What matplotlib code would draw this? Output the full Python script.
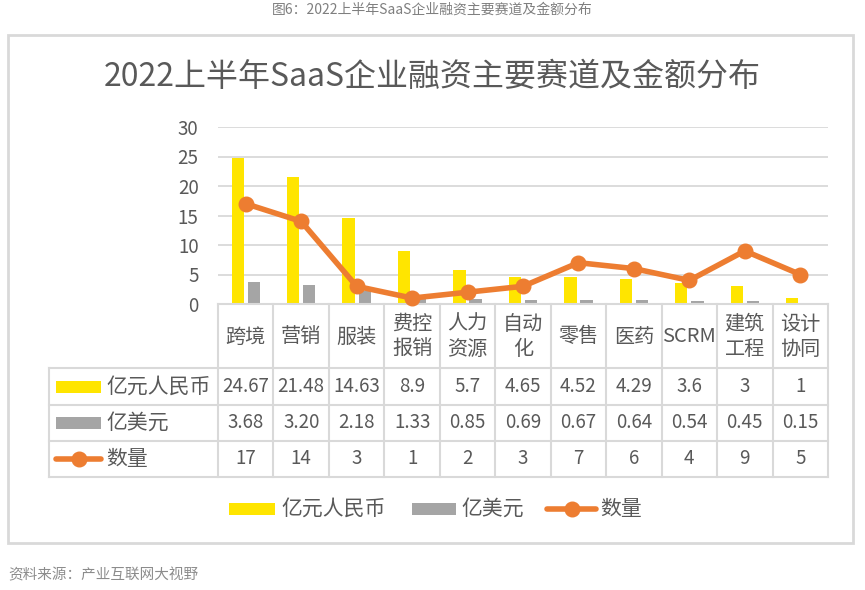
import matplotlib
matplotlib.use("Agg")
import matplotlib.pyplot as plt
import matplotlib.transforms as mtransforms
from matplotlib.lines import Line2D
from matplotlib.patches import Rectangle
import numpy as np

plt.rcParams['font.family'] = ['Noto Sans CJK SC', 'DejaVu Sans']

# ---- data ----
categories = ['跨境', '营销', '服装', '费控\n报销', '人力\n资源', '自动\n化', '零售', '医药', 'SCRM', '建筑\n工程', '设计\n协同']
rmb = [24.67, 21.48, 14.63, 8.9, 5.7, 4.65, 4.52, 4.29, 3.6, 3, 1]
usd = [3.68, 3.20, 2.18, 1.33, 0.85, 0.69, 0.67, 0.64, 0.54, 0.45, 0.15]
count = [17, 14, 3, 1, 2, 3, 7, 6, 4, 9, 5]
series_names = ['亿元人民币', '亿美元', '数量']
yticks = [0, 5, 10, 15, 20, 25, 30]
title = '2022上半年SaaS企业融资主要赛道及金额分布'
caption = '图6：2022上半年SaaS企业融资主要赛道及金额分布'
source = '资料来源：产业互联网大视野'

YELLOW = '#FFE500'
GRAY = '#A5A5A5'
ORANGE = '#ED7D31'
TXT = '#595959'
GRID = '#D9D9D9'

W, H = 865, 590
fig = plt.figure(figsize=(W / 100, H / 100), dpi=100)
fig.patch.set_facecolor('white')

def fx(x):
    return x / W

def fy(y):
    return 1 - y / H

# plot area
L, R, T, B = 218, 828, 127, 304
ax = fig.add_axes([fx(L), fy(B), fx(R) - fx(L), fy(T) - fy(B)])
x = np.arange(len(categories))
ax.set_xlim(-0.5, len(categories) - 0.5)
ax.set_ylim(0, 30)
ax.set_yticks(yticks)
ax.set_yticklabels([str(t) for t in yticks], fontsize=13.5, color=TXT)
ax.tick_params(axis='y', length=0, pad=14)
ax.set_xticks([])
for s in ['top', 'right', 'left']:
    ax.spines[s].set_visible(False)
ax.spines['bottom'].set_color(GRID)
ax.spines['bottom'].set_linewidth(1.5)
ax.grid(axis='y', color=GRID, linewidth=1.3)
ax.set_axisbelow(True)

ax.bar(x - 0.145, rmb, width=0.22, color=YELLOW, zorder=2)
ax.bar(x + 0.145, usd, width=0.22, color=GRAY, zorder=2)
ax.plot(x, count, color=ORANGE, lw=4, marker='o', ms=10.5, zorder=3, clip_on=False)

# table
bt = mtransforms.blended_transform_factory(ax.transData, fig.transFigure)
ft = fig.transFigure
rows_y = [304, 368, 405, 441, 477]
LEFT = 49
for i in range(len(categories) + 1):
    fig.add_artist(Line2D([i - 0.5, i - 0.5], [fy(304), fy(477)], transform=bt, color=GRID, lw=1.5))
fig.add_artist(Line2D([fx(LEFT), fx(LEFT)], [fy(368), fy(477)], transform=ft, color=GRID, lw=1.5))
for yy in rows_y[1:]:
    fig.add_artist(Line2D([fx(LEFT), fx(R)], [fy(yy), fy(yy)], transform=ft, color=GRID, lw=1.5))

for i, c in enumerate(categories):
    fig.text(i, fy(337), c, transform=bt, ha='center', va='center', fontsize=14.5,
             color=TXT, linespacing=1.3)

row_vals = [[f"{v:g}" for v in rmb], [f"{v:.2f}" for v in usd], [str(v) for v in count]]
row_centers = [386.5, 423, 459]
for rv, yc in zip(row_vals, row_centers):
    for i, s in enumerate(rv):
        fig.text(i, fy(yc), s, transform=bt, ha='center', va='center', fontsize=13.5, color=TXT)

# row labels with legend keys
def key(kind, x0, x1, yc):
    if kind == 0 or kind == 1:
        col = YELLOW if kind == 0 else GRAY
        fig.add_artist(Rectangle((fx(x0), fy(yc + 6)), fx(x1) - fx(x0), fy(yc - 6) - fy(yc + 6),
                                 transform=ft, color=col, lw=0))
    else:
        fig.add_artist(Line2D([fx(x0), fx(x1)], [fy(yc), fy(yc)], transform=ft, color=ORANGE, lw=4,
                              solid_capstyle='round'))
        fig.add_artist(Line2D([fx((x0 + x1) / 2)], [fy(yc)], transform=ft, color=ORANGE,
                              marker='o', ms=10.5, lw=0))

for k, (name, yc) in enumerate(zip(series_names, row_centers)):
    key(k, 56, 101, yc)
    fig.text(fx(106), fy(yc), name, ha='left', va='center', fontsize=15, color=TXT)

# bottom legend
LY = 509
leg_pos = [(229, 275, 281), (412, 456, 461), (547, 596, 600)]
for k, (name, (a, b, t)) in enumerate(zip(series_names, leg_pos)):
    key(k, a, b, LY)
    fig.text(fx(t), fy(LY), name, ha='left', va='center', fontsize=15, color=TXT)

# frame, titles
fig.add_artist(Rectangle((fx(8), fy(543)), fx(853) - fx(8), fy(35) - fy(543), transform=ft,
                         fill=False, edgecolor=GRID, lw=2))
fig.text(fx(432), fy(77), title, ha='center', va='center', fontsize=23, color=TXT)
fig.text(fx(432), fy(10), caption, ha='center', va='center', fontsize=10, color='#7F7F7F')
fig.text(fx(8), fy(575), source, ha='left', va='center', fontsize=10.5, color='#8C8C8C', style='italic')

fig.savefig('out.png', dpi=100, facecolor='white')
